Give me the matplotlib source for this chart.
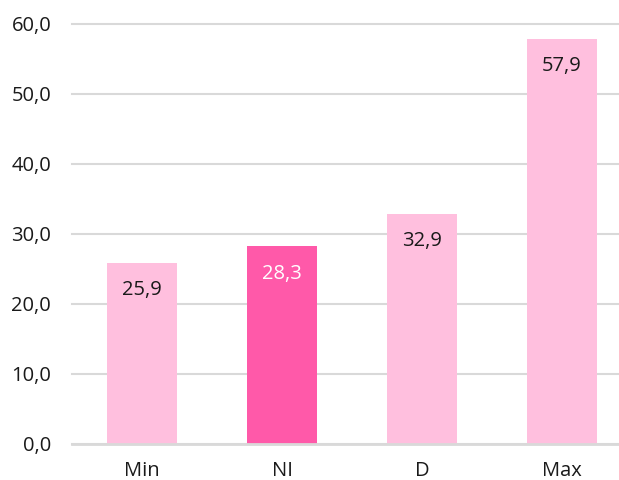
import matplotlib
matplotlib.use('Agg')
import matplotlib.pyplot as plt

categories = ['Min', 'NI', 'D', 'Max']
values = [25.9, 28.3, 32.9, 57.9]
highlight = ['NI']
y_ticks = [0, 10, 20, 30, 40, 50, 60]

LIGHT = '#FFBFDE'
DARK = '#FF59A9'

plt.rcParams['font.family'] = ['Open Sans', 'DejaVu Sans']

fig = plt.figure(figsize=(6.19, 4.8), dpi=100)
ax = fig.add_axes([72 / 619, 36 / 480, 560 / 619, 420 / 480])

x = list(range(len(categories)))
colors = [DARK if c in highlight else LIGHT for c in categories]
ax.bar(x, values, width=0.5, color=colors, zorder=3)

for xi, v, c in zip(x, values, colors):
    ax.annotate(f"{v:.1f}".replace('.', ','), xy=(xi, v), xytext=(0, -20),
                textcoords='offset points', ha='center', va='center',
                fontsize=14.5, color='white' if c == DARK else '#1a1a1a', zorder=4)

ax.set_xlim(-0.5, 3.5)
ax.set_ylim(0, 60)
ax.set_yticks(y_ticks)
ax.set_yticklabels([f"{t:.1f}".replace('.', ',') for t in y_ticks])
ax.set_xticks(x)
ax.set_xticklabels(categories)
ax.tick_params(axis='both', length=0, labelsize=14.5, colors='#1a1a1a')
ax.tick_params(axis='y', pad=15)
ax.tick_params(axis='x', pad=12)

ax.grid(axis='y', color='#D9D9D9', linewidth=1.5, zorder=0)
for line in ax.get_ygridlines():
    line.set_clip_on(False)
for side in ['top', 'right', 'left']:
    ax.spines[side].set_visible(False)
ax.spines['bottom'].set_color('#D9D9D9')
ax.spines['bottom'].set_linewidth(2)
ax.spines['bottom'].set_zorder(5)

fig.savefig('out.png', dpi=100)
